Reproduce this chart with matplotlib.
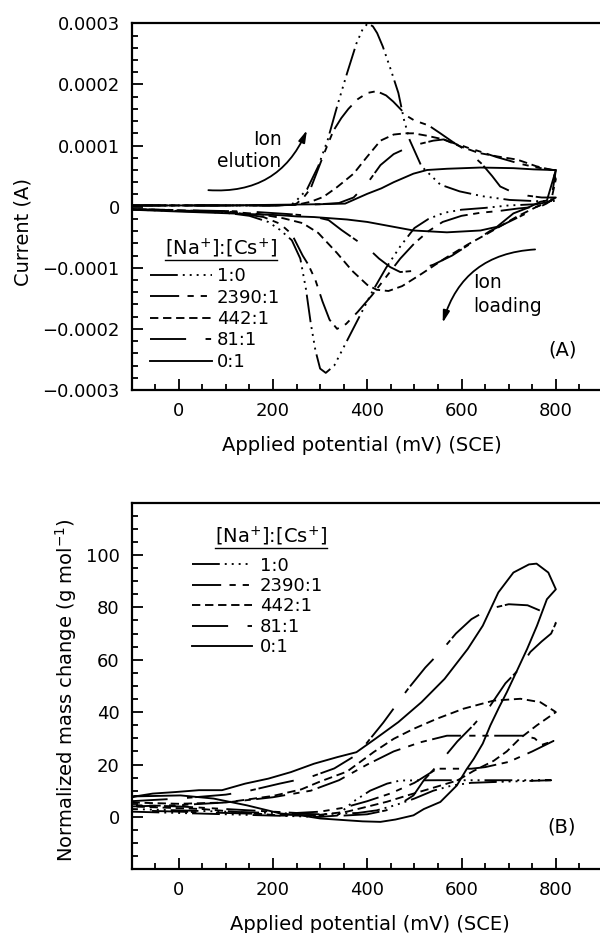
import numpy as np
import matplotlib
matplotlib.use('Agg')
import matplotlib.pyplot as plt
from matplotlib.ticker import MultipleLocator, FuncFormatter
from matplotlib.lines import Line2D

plt.rcParams['font.family'] = ['DejaVu Sans']
plt.rcParams['lines.scale_dashes'] = False

# ---- data: (A) current, in units of 1e-4 A ----
cv10_x = [-100, 0, 100, 200, 239, 251, 272, 296, 316, 336, 357, 377, 390, 401, 412, 421, 433, 450, 466,
          478, 490, 515, 555, 596, 645, 702, 759, 800,
          800, 759, 700, 650, 600, 563, 530, 500, 470, 440, 410, 380, 350, 330, 312, 300, 290, 280, 270,
          258, 240, 215, 190, 150, 100, 0, -100]
cv10_y = [0.02, 0.02, 0.02, 0.02, 0.03, 0.11, 0.28, 0.66, 1.09, 1.64, 2.18, 2.67, 2.9, 3.0, 2.95, 2.84, 2.62,
          2.24, 1.86, 1.42, 1.09, 0.66, 0.36, 0.25, 0.17, 0.11, 0.09, 0.1,
          0.1, 0.04, 0.02, -0.02, -0.05, -0.1, -0.2, -0.35, -0.65, -1.0, -1.4, -1.85, -2.3, -2.6, -2.72,
          -2.65, -2.35, -1.9, -1.35, -0.85, -0.55, -0.38, -0.25, -0.15, -0.1, -0.07, -0.05]

cv2390_x = [-100, 0, 100, 200, 240, 250, 265, 280, 295, 310, 328, 345, 360, 380, 400, 420, 440, 455, 470,
            485, 500, 530, 555, 583, 611, 640, 675, 725, 760, 795, 800,
            800, 790, 760, 720, 680, 640, 600, 560, 530, 500, 470, 440, 410, 380, 355, 336, 320, 305, 290,
            275, 263, 240, 215, 180, 120, 0, -100]
cv2390_y = [0.02, 0.02, 0.02, 0.02, 0.03, 0.05, 0.15, 0.3, 0.6, 0.9, 1.24, 1.45, 1.6, 1.76, 1.86, 1.89,
            1.82, 1.72, 1.6, 1.48, 1.41, 1.33, 1.2, 1.05, 0.97, 0.9, 0.81, 0.7, 0.64, 0.6, 0.6,
            0.6, 0.1, 0.0, -0.03, -0.07, -0.1, -0.15, -0.25, -0.4, -0.6, -0.85, -1.15, -1.45, -1.72, -1.92,
            -2.0, -1.85, -1.55, -1.2, -0.95, -0.8, -0.45, -0.28, -0.17, -0.1, -0.06, -0.04]

cv442_x = [-100, 0, 100, 200, 250, 280, 307, 336, 371, 399, 428, 456, 480, 498, 527, 562, 596, 636, 677,
           718, 759, 792, 800,
           800, 790, 760, 718, 680, 653, 613, 564, 515, 474, 445, 420, 400, 368, 336, 296, 263, 222, 170,
           100, -100]
cv442_y = [0.02, 0.02, 0.02, 0.02, 0.03, 0.08, 0.16, 0.32, 0.54, 0.81, 1.08, 1.18, 1.2, 1.2, 1.16, 1.1,
           0.99, 0.88, 0.82, 0.77, 0.66, 0.6, 0.45,
           0.45, 0.1, 0.0, -0.16, -0.33, -0.45, -0.62, -0.85, -1.1, -1.3, -1.38, -1.36, -1.28, -1.05, -0.76,
           -0.43, -0.27, -0.19, -0.12, -0.08, -0.04]

cv81_x = [-100, 0, 100, 200, 300, 340, 371, 400, 428, 456, 484, 513, 540, 562, 590, 620, 643, 665, 682,
          710, 740, 770, 800,
          800, 780, 740, 700, 660, 620, 580, 540, 500, 470, 449, 425, 403, 371, 345, 318, 280, 230, 150, -100]
cv81_y = [0.02, 0.02, 0.02, 0.02, 0.04, 0.06, 0.15, 0.38, 0.68, 0.86, 0.96, 1.03, 1.08, 1.1, 1.02, 0.86,
          0.7, 0.5, 0.33, 0.23, 0.18, 0.15, 0.15,
          0.15, 0.05, -0.1, -0.25, -0.4, -0.6, -0.8, -0.95, -1.05, -1.07, -0.99, -0.85, -0.69, -0.52,
          -0.38, -0.22, -0.15, -0.12, -0.08, -0.04]

cv0_x = [-100, 0, 100, 200, 300, 353, 400, 430, 456, 480, 498, 527, 569, 640, 710, 753, 792, 800,
         800, 781, 767, 740, 710, 675, 640, 569, 498, 456, 400, 357, 287, 251, 216, 145, 74, 0, -100]
cv0_y = [0.02, 0.02, 0.02, 0.03, 0.04, 0.05, 0.21, 0.3, 0.4, 0.48, 0.54, 0.6, 0.62, 0.64, 0.63, 0.61, 0.6, 0.6,
         0.6, 0.1, 0.08, -0.02, -0.11, -0.33, -0.39, -0.42, -0.39, -0.33, -0.25, -0.21, -0.17, -0.16,
         -0.14, -0.12, -0.1, -0.08, -0.05]

# ---- data: (B) normalized mass change, g/mol ----
m10_x = [-100, 0, 100, 200, 300, 336, 370, 406, 442, 470, 550, 650, 790,
         790, 700, 620, 580, 540, 500, 460, 420, 380, 300, 200, 100, 0, -100]
m10_y = [2, 1.5, 1, 0.5, 0, 0.5, 5.8, 10, 12.7, 13.9, 14, 14, 14,
         14, 13.5, 13, 12, 10, 7, 4.5, 2.5, 1.5, 1, 1.5, 2, 2.5, 3]

m2390_x = [-100, 0, 100, 200, 280, 340, 400, 456, 513, 569, 650, 731, 755, 770, 795,
           795, 750, 700, 650, 621, 585, 548, 500, 450, 400, 350, 300, 250, 200, 100, 0, -100]
m2390_y = [4, 4.5, 5.5, 7.5, 10, 14, 20, 25, 28.5, 31, 31, 31, 30, 27.5, 29,
           29, 25, 21, 19, 18.4, 18.4, 18.4, 13, 9, 6, 3.5, 2, 1.5, 2, 3, 4, 4.5]

m442_x = [-100, 0, 100, 200, 260, 300, 357, 414, 456, 498, 548, 604, 668, 725, 767, 795, 800,
          800, 760, 724, 696, 668, 625, 591, 534, 485, 442, 400, 357, 286, 216, 150, 50, -100]
m442_y = [5.5, 5, 5.5, 8, 10.5, 13.5, 17.3, 24.8, 29.8, 33.6, 37.5, 41.3, 44.4, 45.1, 43.8, 40.6, 40,
          40, 35, 30, 25, 21.4, 17.5, 13.9, 10.8, 8.2, 5.8, 3.9, 2, 0.5, 0.5, 1.5, 3, 4]

m81_x = [-100, 0, 100, 150, 214, 279, 330, 380, 434, 487, 523, 560, 588, 621, 660, 700, 740, 770, 800,
         800, 790, 770, 746, 720, 693, 661, 625, 591, 549, 520, 498, 470, 440, 400, 350, 300, 200, 100, 0, -100]
m81_y = [6, 7, 8.5, 10, 12.7, 15.2, 18.5, 24, 36, 49, 57, 64, 70, 75.5, 79.5, 81.2, 80.8, 78.5, 74,
         74, 70, 67, 63, 56, 51, 42.5, 35, 28.8, 19.7, 14, 8.2, 5, 2.5, 1, 0.5, 0.5, 1, 1.5, 2, 2.5]

m0_x = [-100, -55, -6, 43, 92, 141, 190, 238, 287, 336, 377, 417, 466, 515, 564, 613, 645, 678, 710, 743,
        759, 784, 800,
        781, 760, 739, 718, 696, 680, 661, 645, 626, 610, 590, 555, 520, 498, 460, 428, 390, 357, 300,
        258, 216, 145, 74, 4, -100]
m0_y = [7.6, 8.9, 9.5, 10.2, 10.2, 12.7, 14.6, 17.1, 20.3, 22.8, 24.7, 29.8, 36.2, 43.8, 52.7, 64.1, 73.0,
        85.7, 93.3, 96.4, 96.7, 93.3, 86.9,
        83.1, 73, 64.1, 56, 47.6, 42, 34.9, 28, 22.2, 18, 12, 5.7, 3, 0.6, -1, -1.9, -1.7, -1.3, -0.6,
        0.6, 1.3, 4.4, 7, 8.2, 7.8]

labels = ['1:0', '2390:1', '442:1', '81:1', '0:1']
dash_styles = [(0, (20, 3.6, 1.4, 3.6, 1.4, 3.6, 1.4, 3.6, 1.4, 3.6)),
               (0, (21, 6, 4.5, 5, 4.5, 4)),
               (0, (6, 3.4)),
               (0, (26, 14, 4, 2)),
               '-']

cv_x = [cv10_x, cv2390_x, cv442_x, cv81_x, cv0_x]
cv_y = [cv10_y, cv2390_y, cv442_y, cv81_y, cv0_y]
m_x = [m10_x, m2390_x, m442_x, m81_x, m0_x]
m_y = [m10_y, m2390_y, m442_y, m81_y, m0_y]

fig = plt.figure(figsize=(6, 9.33), dpi=100)
ax1 = fig.add_axes([0.2192, 0.582, 0.7858, 0.393])
ax2 = fig.add_axes([0.2192, 0.0683, 0.7858, 0.393])

title = '[Na$^{+}$]:[Cs$^{+}$]'

for ax in (ax1, ax2):
    for sp in ('left', 'bottom', 'top'):
        ax.spines[sp].set_linewidth(1.6)
    ax.spines['right'].set_visible(False)
    ax.set_xlim(-100, 900)
    ax.xaxis.set_major_locator(MultipleLocator(200))
    ax.xaxis.set_minor_locator(MultipleLocator(50))
    ax.tick_params(which='both', direction='in', top=False, right=False, width=1.3, labelsize=13)
    ax.tick_params(which='major', length=8, pad=8.5)
    ax.tick_params(which='minor', length=4.3)

for i in range(5):
    ax1.plot(cv_x[i], np.array(cv_y[i]) * 1e-4, color='black', lw=1.35,
             linestyle=dash_styles[i], dash_capstyle='butt', label=labels[i])
    ax2.plot(m_x[i], m_y[i], color='black', lw=1.35,
             linestyle=dash_styles[i], dash_capstyle='butt', label=labels[i])

# panel A
ax1.set_ylim(-0.0003, 0.0003)
ax1.yaxis.set_major_locator(MultipleLocator(0.0001))
ax1.yaxis.set_minor_locator(MultipleLocator(0.00002))
ax1.yaxis.set_major_formatter(FuncFormatter(
    lambda v, p: '0' if abs(v) < 1e-12 else f'{v:.4f}'.replace('-', '\u2212')))
ax1.set_xlabel('Applied potential (mV) (SCE)', fontsize=14)
ax1.set_ylabel('Current (A)', fontsize=14)
ax1.xaxis.set_label_coords(0.488, -0.125)
ax1.yaxis.set_label_coords(-0.21, 0.43)
ax1.text(815, -0.000235, '(A)', fontsize=14, ha='center', va='center')
ax1.text(218, 0.000092, 'Ion\nelution', fontsize=13.5, ha='right', va='center',
         multialignment='right', linespacing=1.15)
ax1.text(625, -0.000144, 'Ion\nloading', fontsize=13.5, ha='left', va='center', linespacing=1.35)
ax1.annotate('', xy=(272, 0.000125), xytext=(63, 0.000027),
             arrowprops=dict(arrowstyle='-|>,head_length=0.7,head_width=0.2', lw=1.3, color='black',
                             connectionstyle='arc3,rad=0.35', shrinkA=0, shrinkB=0))
ax1.annotate('', xy=(560, -0.00019), xytext=(756, -0.00007),
             arrowprops=dict(arrowstyle='-|>,head_length=0.7,head_width=0.2', lw=1.3, color='black',
                             connectionstyle='arc3,rad=0.35', shrinkA=0, shrinkB=0))
leg1 = ax1.legend(loc='upper left', bbox_to_anchor=(0.039, 0.335), frameon=False, borderpad=0,
                  borderaxespad=0, fontsize=13, handlelength=3.43, handletextpad=0.28,
                  labelspacing=0.19)
t1 = ax1.text(0.308, 0.387, title, transform=ax1.transAxes, fontsize=14, ha='right', va='center')

# panel B
ax2.set_ylim(-20, 120)
ax2.yaxis.set_major_locator(MultipleLocator(20))
ax2.yaxis.set_minor_locator(MultipleLocator(5))
ax2.yaxis.set_major_formatter(FuncFormatter(
    lambda v, p: '' if (v > 110 or v < -10) else f'{v:.0f}'))
ax2.set_xlabel('Applied potential (mV) (SCE)', fontsize=14)
ax2.set_ylabel('Normalized mass change (g mol$^{-1}$)', fontsize=14)
ax2.xaxis.set_label_coords(0.505, -0.125)
ax2.yaxis.set_label_coords(-0.111, 0.49)
ax2.text(813, -4, '(B)', fontsize=14, ha='center', va='center')
leg2 = ax2.legend(loc='upper left', bbox_to_anchor=(0.1277, 0.8525), frameon=False, borderpad=0,
                  borderaxespad=0, fontsize=13, handlelength=3.32, handletextpad=0.46,
                  labelspacing=0.133)
t2 = ax2.text(0.4146, 0.908, title, transform=ax2.transAxes, fontsize=14, ha='right', va='center')

# underline legend titles
fig.canvas.draw()
renderer = fig.canvas.get_renderer()
inv = fig.transFigure.inverted()
for t in (t1, t2):
    bb = t.get_window_extent(renderer)
    (x0, y0), (x1, _) = inv.transform([(bb.x0, bb.y0), (bb.x1, bb.y0)])
    fig.add_artist(Line2D([x0, x1], [y0, y0], transform=fig.transFigure, color='black', lw=1.0))

fig.savefig('out.png', dpi=100)
